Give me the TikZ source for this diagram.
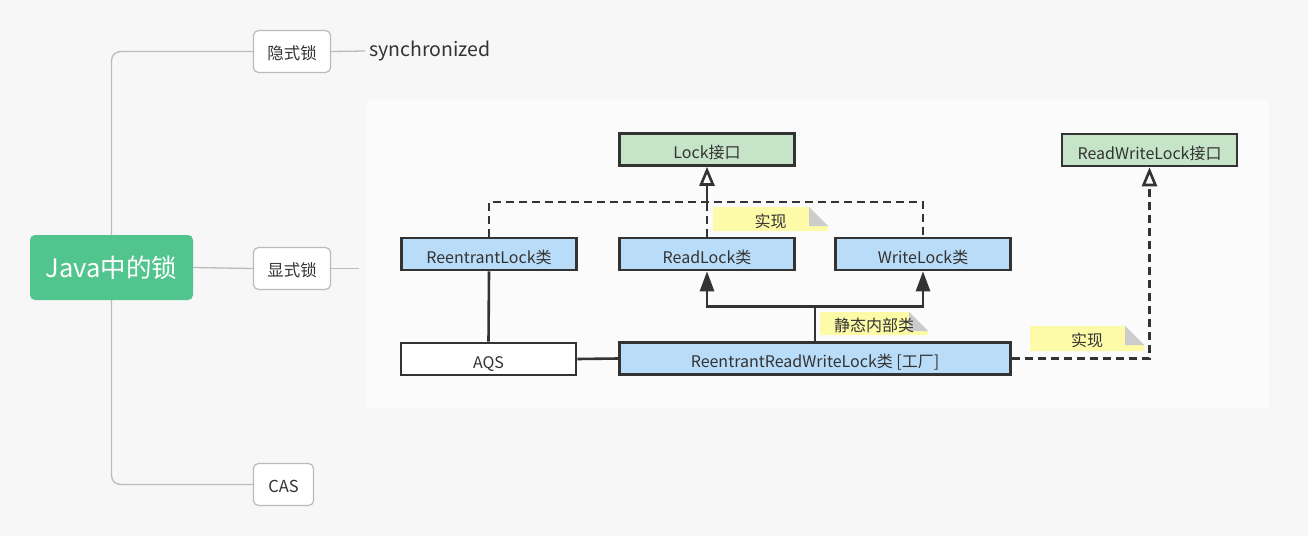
\documentclass[tikz,border=0pt]{standalone}
\usepackage{fontspec}
\setmainfont{Noto Sans CJK SC}
\usetikzlibrary{arrows.meta}
\definecolor{bgc}{HTML}{F7F7F7}
\definecolor{panelc}{HTML}{FBFBFB}
\definecolor{rootc}{HTML}{52C48E}
\definecolor{ifacec}{HTML}{C6E5C8}
\definecolor{clsc}{HTML}{B9DCF8}
\definecolor{memoc}{HTML}{FDFBA8}
\definecolor{foldc}{HTML}{CCCCCC}
\definecolor{inkc}{HTML}{333333}
\definecolor{mapc}{HTML}{BBBBBB}
\begin{document}
\begin{tikzpicture}[x=1pt,y=-1pt,>=Stealth,
  topic/.style={draw=mapc,line width=1.2pt,rounded corners=5pt,fill=white,inner sep=0pt,minimum height=42pt,text=inkc,font=\fontsize{16.5}{18}\selectfont,text height=15pt,text depth=0pt},
  mapline/.style={draw=mapc,line width=1.3pt},
  cls/.style={draw=inkc,line width=2.6pt,fill=clsc,inner sep=0pt,minimum width=175pt,minimum height=32pt,text=inkc,font=\fontsize{16}{18}\selectfont,text height=18pt,text depth=0pt},
  iface/.style={cls,fill=ifacec},
  ln/.style={draw=inkc,line width=2.6pt},
  dsh/.style={ln,dash pattern=on 8pt off 5pt},
  openarr/.style={-{Triangle[open,length=19pt,width=15pt,line width=2.6pt]}},
  fullarr/.style={-{Triangle[length=20pt,width=14pt]}},
  memo/.style={inner sep=0pt,text=inkc,font=\fontsize{16}{18}\selectfont,text height=16pt,text depth=0pt,
    path picture={
      \fill[memoc] (path picture bounding box.south west) |- ([xshift=-19pt]path picture bounding box.north east) -- ([yshift=-19pt]path picture bounding box.north east) -- (path picture bounding box.south east) -- cycle;
      \fill[foldc] ([xshift=-19pt]path picture bounding box.north east) -- ([xshift=-19pt,yshift=-19pt]path picture bounding box.north east) -- ([yshift=-19pt]path picture bounding box.north east) -- cycle;}}]
\useasboundingbox[fill=bgc] (0,0) rectangle (1308,536);
\node[fill=panelc,minimum width=902pt,minimum height=308pt,inner sep=0pt] (panel) at (818,254) {};
\node[fill=rootc,rounded corners=5pt,minimum width=163pt,minimum height=65pt,inner sep=0pt,text=white,font=\fontsize{25.5}{28}\selectfont] (root) at (111.5,267.5) {Java中的锁};
\node[topic,minimum width=77pt] (hid) at (292,51.5) {隐式锁};
\node[topic,minimum width=77pt] (xian) at (292,268.5) {显式锁};
\node[topic,minimum width=60pt] (cas) at (283.5,484.5) {CAS};
\node[anchor=west,inner sep=4pt,text=inkc,font=\fontsize{19.5}{21}\selectfont] (sync) at (365,51) {synchronized};
\draw[mapline,rounded corners=9pt] (root.north) |- (hid.west);
\draw[mapline,rounded corners=9pt] (root.south) |- (cas.west);
\draw[mapline] (root.east) -- (xian.west);
\draw[mapline] (hid.east) -- (sync.west);
\draw[mapline,shorten >=8pt] (xian.east) -- (xian.east -| panel.west);
\node[iface] (lock) at (707,149.5) {Lock接口};
\node[iface] (rwlock) at (1149.5,150) {ReadWriteLock接口};
\node[cls] (reen) at (489,254) {ReentrantLock类};
\node[cls] (read) at (707,254) {ReadLock类};
\node[cls] (write) at (923,254) {WriteLock类};
\node[cls,fill=white] (aqs) at (488.5,359) {AQS};
\node[cls,minimum width=391pt] (rrwl) at (815,358.5) {ReentrantReadWriteLock类 [工厂]};
\coordinate (jn) at (707,202);
\draw[dsh] (reen.north) |- (jn) -| (write.north);
\draw[dsh] (read.north) -- (jn);
\draw[ln,openarr] (jn) -- (lock.south);
\draw[ln] (rrwl.north) -- ++(0,-35) coordinate (jb);
\draw[ln,fullarr] (jb) -| (read.south);
\draw[ln,fullarr] (jb) -| (write.south);
\draw[ln] (reen.south) -- (aqs.north);
\draw[ln] (aqs.east) -- (rrwl.west);
\draw[dsh,openarr] (rrwl.east) -| (rwlock.south);
\node[memo,minimum width=115pt,minimum height=24pt] (m1) at (770.5,219) {实现};
\node[memo,minimum width=108pt,minimum height=23pt] (m2) at (874,323.5) {静态内部类};
\node[memo,minimum width=114pt,minimum height=25pt] (m3) at (1087,338.5) {实现};
\end{tikzpicture}
\end{document}
